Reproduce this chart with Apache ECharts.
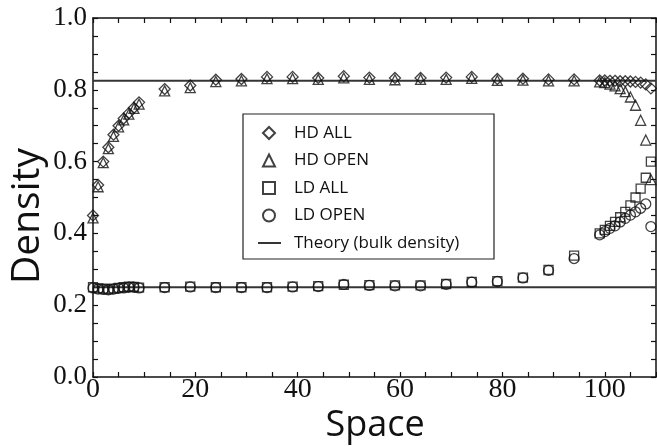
<!DOCTYPE html>
<html>
<head>
<meta charset="utf-8">
<script src="https://cdn.jsdelivr.net/npm/echarts@6/dist/echarts.min.js"></script>
<style>
  html, body { margin: 0; padding: 0; background: #ffffff; }
  #chart { width: 657px; height: 446px; }
</style>
</head>
<body>
<div id="chart"></div>
<script>
// Lattice sites where the density was sampled
const space = [0, 1, 2, 3, 4, 5, 6, 7, 8, 9,
  14, 19, 24, 29, 34, 39, 44, 49, 54, 59, 64, 69, 74, 79, 84, 89, 94,
  99, 100, 101, 102, 103, 104, 105, 106, 107, 108, 109];

// High-density phase
const hdAll = [0.450, 0.535, 0.600, 0.640, 0.675, 0.700, 0.720, 0.735, 0.750, 0.765,
  0.802, 0.812, 0.828, 0.830, 0.836, 0.836, 0.833, 0.838, 0.834, 0.833, 0.833, 0.834, 0.836, 0.830, 0.831, 0.829, 0.829,
  0.826, 0.826, 0.825, 0.825, 0.824, 0.824, 0.823, 0.822, 0.820, 0.815, 0.804];
const hdOpen = [0.443, 0.530, 0.597, 0.636, 0.670, 0.697, 0.716, 0.732, 0.748, 0.760,
  0.797, 0.806, 0.823, 0.825, 0.831, 0.831, 0.829, 0.833, 0.829, 0.828, 0.829, 0.829, 0.832, 0.826, 0.827, 0.825, 0.825,
  0.822, 0.820, 0.816, 0.811, 0.803, 0.795, 0.780, 0.757, 0.715, 0.660, 0.550];

// Low-density phase
const ldAll = [0.250, 0.247, 0.246, 0.244, 0.246, 0.248, 0.250, 0.252, 0.251, 0.249,
  0.250, 0.252, 0.250, 0.250, 0.250, 0.252, 0.253, 0.257, 0.256, 0.255, 0.255, 0.259, 0.265, 0.267, 0.277, 0.298, 0.338,
  0.400, 0.410, 0.421, 0.432, 0.445, 0.460, 0.478, 0.500, 0.525, 0.555, 0.600];
const ldOpen = [0.248, 0.245, 0.244, 0.243, 0.245, 0.247, 0.248, 0.250, 0.250, 0.248,
  0.249, 0.251, 0.249, 0.249, 0.249, 0.251, 0.252, 0.258, 0.255, 0.254, 0.254, 0.258, 0.264, 0.266, 0.276, 0.297, 0.330,
  0.396, 0.405, 0.414, 0.421, 0.432, 0.442, 0.451, 0.460, 0.470, 0.482, 0.419];

// Bulk densities from theory
const theoryHD = 0.825;
const theoryLD = 0.25;
const spaceRange = [0, 110];

// Labelled ticks
const xTickLabels = [0, 20, 40, 60, 80, 100];
const yTickLabels = [0.0, 0.2, 0.4, 0.6, 0.8, 1.0];

const seriesNames = ['HD ALL', 'HD OPEN', 'LD ALL', 'LD OPEN', 'Theory (bulk density)'];
const xTitle = 'Space';
const yTitle = 'Density';

function pairs(xs, ys) { return xs.map((x, i) => [x, ys[i]]); }

const ink = '#111111';
const theoryColor = '#353535';
const hollow = { color: 'rgba(255,255,255,0)', borderColor: ink, borderWidth: 1.3 };

const frameLine = { show: true, onZero: false, lineStyle: { color: ink, width: 1.5 } };
const frameTick = { show: true, inside: true, length: 5, lineStyle: { color: ink, width: 1.2 } };
const legendText = { fontFamily: 'Open Sans', fontSize: 17, color: ink, lineHeight: 18 };
const titleFont = { fontFamily: 'Open Sans', fontSize: 39, fill: ink, align: 'center', verticalAlign: 'middle' };

function scatter(name, symbol, size, ys) {
  return {
    name: name, type: 'scatter', symbol: symbol, symbolSize: size,
    itemStyle: hollow, data: pairs(space, ys), z: 3
  };
}
function theory(value) {
  return {
    name: seriesNames[4], type: 'line', symbol: 'none', z: 2,
    itemStyle: { color: theoryColor },
    lineStyle: { color: theoryColor, width: 2 },
    data: [[spaceRange[0], value], [spaceRange[1], value]]
  };
}

const chart = echarts.init(document.getElementById('chart'));
chart.setOption({
  animation: false,
  backgroundColor: '#ffffff',
  grid: { left: 93, right: 1, top: 18, bottom: 69, containLabel: false, outerBoundsMode: 'none' },
  xAxis: [{
    type: 'value', min: spaceRange[0], max: spaceRange[1], interval: 5, position: 'bottom',
    axisLine: frameLine, axisTick: frameTick, splitLine: { show: false },
    axisLabel: {
      fontFamily: 'Liberation Serif', fontSize: 28, color: ink, margin: -1,
      formatter: v => xTickLabels.includes(v) ? String(v) : ''
    }
  }, {
    type: 'value', min: spaceRange[0], max: spaceRange[1], interval: 5, position: 'top',
    axisLine: frameLine, axisTick: frameTick, splitLine: { show: false },
    axisLabel: { show: false }
  }],
  yAxis: [{
    type: 'value', min: 0, max: 1, interval: 0.05, position: 'left',
    axisLine: frameLine, axisTick: frameTick, splitLine: { show: false },
    axisLabel: {
      fontFamily: 'Liberation Serif', fontSize: 27, color: ink, margin: 6,
      formatter: v => {
        const t = yTickLabels.find(k => Math.abs(k - v) < 1e-6);
        return t === undefined ? '' : t.toFixed(1);
      }
    }
  }, {
    type: 'value', min: 0, max: 1, interval: 0.05, position: 'right',
    axisLine: frameLine, axisTick: frameTick, splitLine: { show: false },
    axisLabel: { show: false }
  }],
  legend: [{
    // marker entries
    orient: 'vertical', left: 257, top: 119,
    itemWidth: 12, itemHeight: 12, itemGap: 9.5,
    textStyle: Object.assign({ padding: [0, 0, 0, 14] }, legendText),
    data: seriesNames.slice(0, 4)
  }, {
    // theory line entry
    orient: 'vertical', left: 253, top: 229,
    itemWidth: 23, itemHeight: 2,
    textStyle: Object.assign({ padding: [0, 0, 0, 8] }, legendText),
    data: [{ name: seriesNames[4], icon: 'rect', itemStyle: { color: theoryColor } }]
  }],
  graphic: [{
    type: 'rect', z: 10, silent: true,
    shape: { x: 243, y: 114, width: 251, height: 145 },
    style: { fill: 'none', stroke: '#222222', lineWidth: 1.2 }
  }, {
    // axis titles
    type: 'text', silent: true, x: 375, y: 426,
    style: Object.assign({ text: xTitle }, titleFont, { fontSize: 36 })
  }, {
    type: 'text', silent: true, x: 28, y: 216, rotation: Math.PI / 2,
    style: Object.assign({ text: yTitle }, titleFont)
  }],
  series: [
    theory(theoryHD),
    theory(theoryLD),
    scatter(seriesNames[0], 'diamond', 11, hdAll),
    scatter(seriesNames[1], 'triangle', 10, hdOpen),
    scatter(seriesNames[2], 'rect', 9, ldAll),
    scatter(seriesNames[3], 'circle', 10, ldOpen)
  ]
});
</script>
</body>
</html>
